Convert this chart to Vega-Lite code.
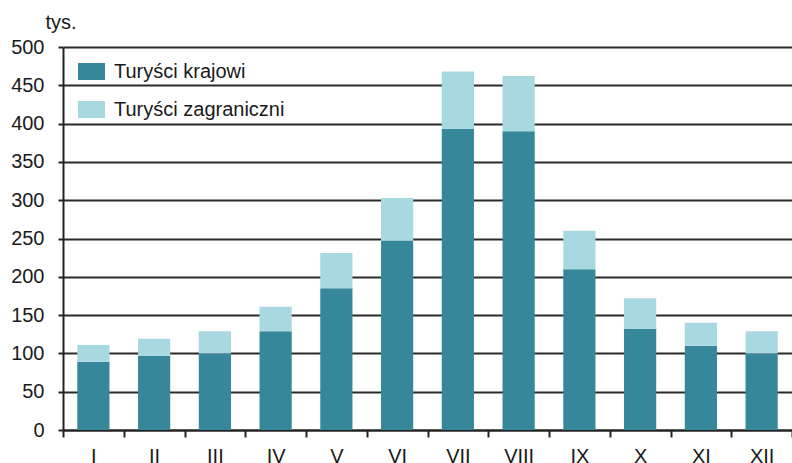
{
  "$schema": "https://vega.github.io/schema/vega-lite/v6.json",
  "width": 729,
  "height": 383,
  "autosize": "none",
  "padding": {"left": 63, "top": 47, "right": 0, "bottom": 33},
  "background": "white",
  "config": {
    "view": {"stroke": null},
    "font": "Liberation Sans",
    "axis": {"labelFont": "Liberation Sans", "titleFont": "Liberation Sans"}
  },
  "data": {
    "values": [
      {"m": "I", "t": "Turyści krajowi", "v": 89, "o": 1},
      {"m": "I", "t": "Turyści zagraniczni", "v": 22, "o": 2},
      {"m": "II", "t": "Turyści krajowi", "v": 97, "o": 1},
      {"m": "II", "t": "Turyści zagraniczni", "v": 22, "o": 2},
      {"m": "III", "t": "Turyści krajowi", "v": 100, "o": 1},
      {"m": "III", "t": "Turyści zagraniczni", "v": 29, "o": 2},
      {"m": "IV", "t": "Turyści krajowi", "v": 129, "o": 1},
      {"m": "IV", "t": "Turyści zagraniczni", "v": 32, "o": 2},
      {"m": "V", "t": "Turyści krajowi", "v": 185, "o": 1},
      {"m": "V", "t": "Turyści zagraniczni", "v": 46, "o": 2},
      {"m": "VI", "t": "Turyści krajowi", "v": 247, "o": 1},
      {"m": "VI", "t": "Turyści zagraniczni", "v": 56, "o": 2},
      {"m": "VII", "t": "Turyści krajowi", "v": 393, "o": 1},
      {"m": "VII", "t": "Turyści zagraniczni", "v": 75, "o": 2},
      {"m": "VIII", "t": "Turyści krajowi", "v": 390, "o": 1},
      {"m": "VIII", "t": "Turyści zagraniczni", "v": 72, "o": 2},
      {"m": "IX", "t": "Turyści krajowi", "v": 210, "o": 1},
      {"m": "IX", "t": "Turyści zagraniczni", "v": 50, "o": 2},
      {"m": "X", "t": "Turyści krajowi", "v": 132, "o": 1},
      {"m": "X", "t": "Turyści zagraniczni", "v": 40, "o": 2},
      {"m": "XI", "t": "Turyści krajowi", "v": 110, "o": 1},
      {"m": "XI", "t": "Turyści zagraniczni", "v": 30, "o": 2},
      {"m": "XII", "t": "Turyści krajowi", "v": 100, "o": 1},
      {"m": "XII", "t": "Turyści zagraniczni", "v": 29, "o": 2}
    ]
  },
  "mark": {"type": "bar", "width": {"band": 0.53}},
  "encoding": {
    "x": {
      "field": "m",
      "type": "nominal",
      "sort": null,
      "scale": {"paddingInner": 0, "paddingOuter": 0},
      "axis": {
        "title": null,
        "labelAngle": 0,
        "labelFontSize": 20,
        "labelColor": "#1a1a1a",
        "labelPadding": 9,
        "tickBand": "extent",
        "tickSize": 7,
        "tickWidth": 2,
        "tickColor": "#222",
        "domainColor": "#222",
        "domainWidth": 2,
        "grid": false
      }
    },
    "y": {
      "field": "v",
      "type": "quantitative",
      "aggregate": "sum",
      "stack": "zero",
      "scale": {"domain": [0, 500], "nice": false},
      "axis": {
        "title": "tys.",
        "titleAngle": 0,
        "titleAlign": "left",
        "titleBaseline": "alphabetic",
        "titleX": -18,
        "titleY": -19,
        "titleFontSize": 20,
        "titleFontWeight": "normal",
        "titleColor": "#1a1a1a",
        "values": [0, 50, 100, 150, 200, 250, 300, 350, 400, 450, 500],
        "labelFontSize": 20,
        "labelColor": "#1a1a1a",
        "labelPadding": 14,
        "tickSize": 5,
        "tickWidth": 2,
        "tickColor": "#222",
        "domainColor": "#222",
        "domainWidth": 2,
        "grid": true,
        "gridColor": "#2a2a2a",
        "gridWidth": 2,
        "gridOpacity": 1
      }
    },
    "color": {
      "field": "t",
      "type": "nominal",
      "scale": {"domain": ["Turyści krajowi", "Turyści zagraniczni"], "range": ["#37879B", "#A8D8E0"]},
      "legend": {
        "title": null,
        "orient": "none",
        "legendX": 15,
        "legendY": 11,
        "symbolType": "M-1,-0.63H1V0.63H-1Z",
        "symbolSize": 729,
        "symbolStrokeWidth": 0,
        "symbolOpacity": 1,
        "labelFontSize": 20,
        "labelColor": "#1a1a1a",
        "labelOffset": 9,
        "rowPadding": 14,
        "labelLimit": 400
      }
    },
    "order": {"field": "o", "type": "quantitative"}
  }
}
